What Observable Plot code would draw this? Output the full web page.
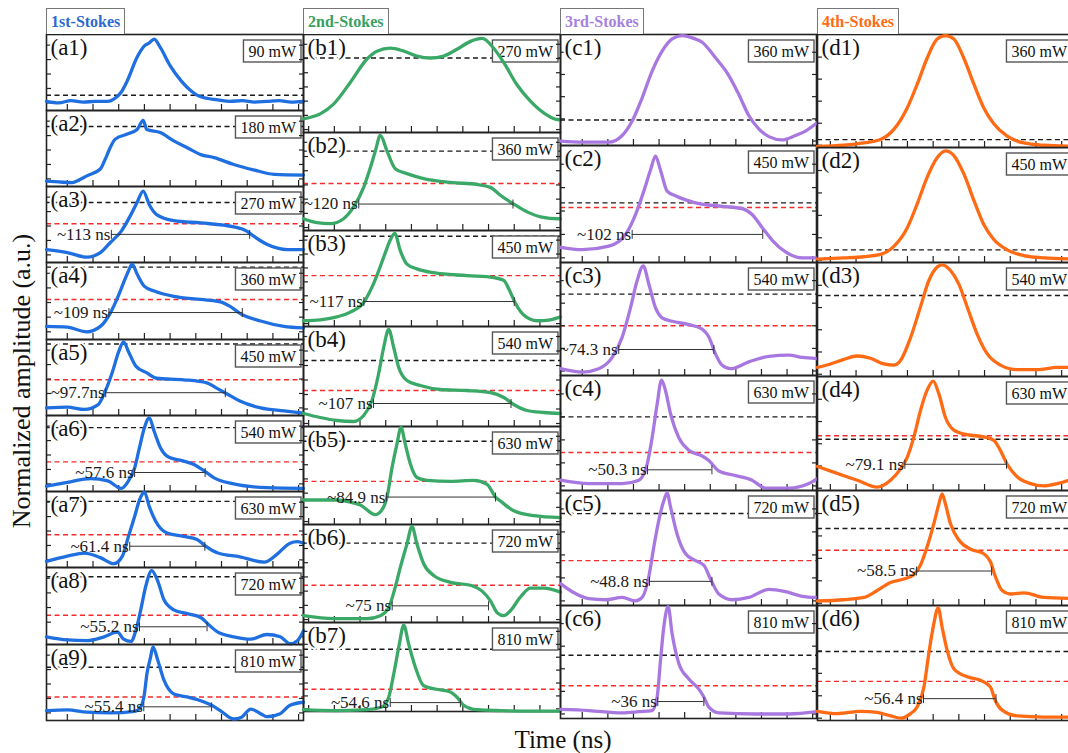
<!DOCTYPE html>
<html>
<head>
<meta charset="utf-8">
<script src="https://cdn.jsdelivr.net/npm/d3@7/dist/d3.min.js"></script>
<script src="https://cdn.jsdelivr.net/npm/@observablehq/plot@0.6/dist/plot.umd.min.js"></script>
<style>
  html, body { margin: 0; padding: 0; background: #fff; overflow: hidden; }
  #fig { position: relative; width: 1068px; height: 753px; overflow: hidden;
         font-family: 'Liberation Serif', 'Times New Roman', serif; background: #fff; }
  .head { position: absolute; top: 8px; height: 26px; box-sizing: border-box;
          border: 1.5px solid #777; border-bottom: none; background: #fff;
          font-weight: bold; font-size: 16px; line-height: 25px; padding: 0 4px; white-space: nowrap; }
  .ylab { position: absolute; left: 22px; top: 381px; transform: translate(-50%, -50%) rotate(-90deg);
          font-size: 26px; white-space: nowrap; color: #111; }
  .xlab { position: absolute; left: 563px; top: 726px; transform: translateX(-50%);
          font-size: 25px; white-space: nowrap; color: #111; }
</style>
</head>
<body>
<div id="fig"></div>
<script>
// ---------- 1st-Stokes pulses: [time (ns), normalized amplitude] ----------
const a1 = [[0,0.12],[10,0.10],[20,0.13],[30,0.11],[40,0.12],[50,0.12],[55,0.15],[61,0.24],[66,0.39],[74,0.70],[80,0.85],[84,0.89],[88,0.94],[93,0.83],[101,0.59],[110,0.39],[118,0.26],[126,0.18],[140,0.14],[150,0.12],[160,0.13],[170,0.11],[180,0.12],[190,0.13],[200,0.11],[210,0.12]];
const a2 = [[0,0.07],[10,0.06],[21,0.05],[27,0.09],[33,0.14],[44,0.23],[48,0.36],[52,0.51],[56,0.62],[66,0.69],[74,0.75],[79,0.87],[82,0.75],[93,0.71],[104,0.60],[115,0.51],[126,0.42],[137,0.38],[153,0.29],[169,0.22],[186,0.16],[210,0.15]];
const a3 = [[0,0.17],[17,0.13],[33,0.07],[44,0.13],[52,0.26],[61,0.41],[69,0.63],[74,0.79],[79,0.94],[84,0.76],[90,0.63],[104,0.55],[126,0.52],[153,0.47],[164,0.41],[169,0.35],[180,0.24],[197,0.17],[210,0.17]];
const a4 = [[0,0.17],[17,0.16],[33,0.10],[44,0.17],[52,0.34],[58,0.54],[63,0.74],[67,0.89],[70,0.98],[74,0.85],[80,0.69],[88,0.63],[104,0.56],[126,0.52],[142,0.49],[150,0.43],[158,0.34],[175,0.24],[194,0.17],[210,0.15]];
const a5 = [[0,0.10],[17,0.11],[31,0.08],[42,0.14],[48,0.32],[54,0.58],[59,0.84],[63,0.97],[67,0.84],[73,0.65],[82,0.56],[90,0.49],[112,0.47],[131,0.43],[139,0.36],[148,0.28],[158,0.19],[175,0.10],[194,0.06],[210,0.03]];
const a6 = [[0,0.07],[17,0.12],[36,0.17],[50,0.14],[61,0.04],[67,0.14],[72,0.31],[76,0.58],[80,0.84],[84,0.97],[88,0.79],[93,0.58],[100,0.45],[112,0.40],[120,0.36],[129,0.27],[137,0.18],[153,0.10],[180,0.05],[210,0.04]];
const a7 = [[0,0.08],[17,0.15],[31,0.19],[44,0.13],[55,0.05],[62,0.15],[67,0.41],[72,0.67],[76,0.89],[80,0.99],[84,0.80],[91,0.56],[99,0.45],[112,0.41],[123,0.37],[130,0.28],[140,0.19],[158,0.14],[178,0.07],[188,0.17],[199,0.32],[205,0.34],[210,0.32]];
const a8 = [[0,0.10],[17,0.06],[33,0.05],[47,0.10],[58,0.16],[63,0.07],[69,0.04],[73,0.18],[77,0.45],[81,0.75],[86,0.96],[91,0.82],[96,0.58],[104,0.45],[115,0.40],[126,0.35],[133,0.25],[140,0.16],[153,0.10],[167,0.07],[180,0.13],[191,0.10],[199,0.01],[205,0.05],[210,0.18]];
const a9 = [[0,0.13],[17,0.14],[33,0.11],[52,0.10],[72,0.12],[77,0.18],[80,0.35],[82,0.61],[85,0.83],[87,0.97],[91,0.79],[96,0.53],[104,0.35],[115,0.31],[126,0.26],[135,0.20],[142,0.13],[153,0.02],[159,0.04],[167,0.15],[175,0.09],[180,0.05],[191,0.09],[199,0.20],[210,0.24]];

const powersA = [90, 180, 270, 360, 450, 540, 630, 720, 810];
const blackA = [0.20, 0.79, 0.79, 0.94, 0.94, 0.84, 0.87, 0.88, 0.70];
const redA = [null, null, 0.51, 0.52, 0.47, 0.39, 0.43, 0.38, 0.31];
const barStartA = [null, null, 53, 51, 48.4, 72, 68, 76, 79.5];
const barLevelA = [null, null, 0.37, 0.35, 0.30, 0.25, 0.28, 0.23, 0.18];
const widthLabelsA = [null, null, "~113 ns", "~109 ns", "~97.7ns", "~57.6 ns", "~61.4 ns", "~55.2 ns", "~55.4 ns"];

// ---------- 2nd-Stokes ----------
const b1 = [[0,0.14],[13,0.19],[23.4,0.29],[36.4,0.51],[49.4,0.75],[57.2,0.83],[67.5,0.86],[78,0.83],[88.3,0.78],[98.7,0.76],[109,0.78],[119.5,0.85],[130,0.93],[139,0.96],[148,0.86],[156,0.71],[166,0.49],[176.6,0.32],[187,0.20],[198.7,0.13],[200,0.13]];
const b2 = [[0,0.12],[10.4,0.08],[20.8,0.07],[31.2,0.12],[39,0.24],[46.8,0.44],[52,0.64],[55.9,0.81],[59.8,0.97],[65,0.81],[71.4,0.63],[80.5,0.58],[93.5,0.53],[114.3,0.49],[135,0.47],[145.5,0.44],[153.2,0.36],[163.6,0.27],[174,0.19],[184.4,0.14],[198.7,0.12],[200,0.12]];
const b3 = [[0,0.06],[13,0.07],[26,0.10],[36.4,0.15],[46.8,0.25],[53.3,0.41],[58.5,0.58],[63.7,0.77],[67.5,0.90],[71,0.97],[75.3,0.79],[80.5,0.65],[88.3,0.60],[101.3,0.56],[127.3,0.53],[148.1,0.51],[155.9,0.48],[159.8,0.39],[165,0.24],[171.4,0.12],[181.8,0.06],[192.2,0.07],[200,0.10]];
const b4 = [[0,0.13],[13,0.09],[26,0.06],[39,0.05],[46.8,0.11],[53.3,0.26],[58.5,0.53],[62.4,0.79],[66.3,0.97],[70.2,0.79],[74.1,0.59],[80.5,0.46],[90.9,0.41],[106.5,0.37],[127.3,0.36],[145.5,0.34],[155.9,0.29],[163.6,0.22],[174,0.16],[187,0.14],[200,0.13]];
const b5 = [[0,0.25],[13,0.25],[26,0.25],[36,0.23],[44.2,0.20],[55.9,0.10],[62.4,0.18],[65,0.28],[68.9,0.58],[72.7,0.82],[75.9,0.99],[79.2,0.82],[83.1,0.62],[88.3,0.48],[96.1,0.45],[114.3,0.44],[132.5,0.45],[142.9,0.41],[149.4,0.28],[153.2,0.24],[163.6,0.14],[179.2,0.09],[200,0.07]];
const b6 = [[0,0.07],[23.4,0.04],[49.4,0.04],[59.8,0.07],[66.3,0.15],[71.4,0.36],[75.3,0.56],[80.5,0.80],[84.4,0.98],[88.3,0.80],[93.5,0.60],[101.3,0.48],[114.3,0.41],[129.9,0.38],[139,0.32],[145.5,0.22],[150.7,0.10],[155.9,0.07],[161,0.12],[168.8,0.26],[176.6,0.35],[187,0.35],[200,0.31]];
const b7 = [[0,0.02],[23.4,0.01],[49.4,0.02],[61,0.05],[66.3,0.16],[70.2,0.42],[74.1,0.72],[78,0.97],[81.8,0.76],[87,0.50],[93.5,0.29],[103.9,0.25],[114.3,0.22],[119.5,0.16],[124.7,0.07],[135,0.02],[153.2,0.01],[179.2,0.005],[200,0.005]];

const powersB = [270, 360, 450, 540, 630, 720, 810];
const blackB = [0.76, 0.81, 0.94, 0.66, 0.85, 0.81, 0.70];
const redB = [null, 0.48, 0.53, 0.36, 0.44, 0.38, 0.25];
const barStartB = [null, 43, 47, 54.5, 64.5, 69, 67.5];
const barLevelB = [null, 0.27, 0.26, 0.23, 0.28, 0.17, 0.10];
const widthLabelsB = [null, "~120 ns", "~117 ns", "~107 ns", "~84.9 ns", "~75 ns", "~54.6 ns"];

// ---------- 3rd-Stokes ----------
const c1 = [[0,0.04],[17,0.03],[37.8,0.03],[48.2,0.09],[56,0.22],[63.8,0.43],[71.6,0.67],[79.4,0.85],[87.2,0.96],[95.1,0.99],[102.9,0.97],[110.7,0.93],[121.1,0.79],[131.5,0.63],[139.3,0.46],[147.1,0.27],[154.9,0.15],[162.8,0.08],[173.2,0.05],[183.6,0.09],[191.4,0.13],[200,0.20]];
const c2 = [[0,0.13],[17,0.11],[37.8,0.14],[50.8,0.24],[58.6,0.41],[65.1,0.61],[70.3,0.79],[74.2,0.91],[78.1,0.79],[83.3,0.61],[89.8,0.57],[105.5,0.51],[126.3,0.48],[141.9,0.46],[149.7,0.41],[157.5,0.30],[165.4,0.19],[175.8,0.09],[188.8,0.04],[200,0.04]];
const c3 = [[0,0.06],[17,0.03],[29.9,0.06],[40.4,0.16],[48.2,0.34],[54.7,0.60],[59.9,0.84],[64.6,0.97],[69,0.81],[74.2,0.60],[79.4,0.51],[87.2,0.48],[100.3,0.45],[110.7,0.41],[115.9,0.34],[121.1,0.19],[126.3,0.09],[132.8,0.06],[147.1,0.12],[162.8,0.17],[178.4,0.18],[188.8,0.16],[200,0.15]];
const c4 = [[0,0.09],[22.1,0.06],[48.2,0.06],[61.2,0.09],[67.7,0.23],[71.6,0.46],[75.5,0.75],[78.9,0.96],[82,0.87],[85.9,0.67],[92.4,0.46],[100.3,0.35],[110.7,0.30],[115.9,0.26],[123.7,0.17],[136.7,0.13],[149.7,0.09],[160.2,0.02],[178.4,0.02],[194,0.06],[200,0.10]];
const c5 = [[0,0.19],[9.1,0.12],[22.1,0.06],[35.2,0.05],[48.2,0.07],[58.6,0.04],[63.8,0.07],[69,0.25],[72.9,0.51],[76.8,0.74],[80.7,0.91],[83.3,0.98],[85.9,0.86],[91.1,0.62],[97.7,0.45],[105.5,0.39],[112,0.35],[117.2,0.23],[123.7,0.10],[134.1,0.05],[147.1,0.07],[162.8,0.14],[175.8,0.12],[188.8,0.08],[200,0.07]];
const c6 = [[0,0.08],[22.1,0.07],[48.2,0.05],[61.2,0.06],[71.6,0.07],[75.5,0.19],[78.1,0.51],[80.7,0.81],[84.1,0.99],[87.2,0.75],[92.4,0.49],[100.3,0.35],[108.1,0.26],[112,0.19],[115.9,0.10],[123.7,0.05],[152.3,0.04],[178.4,0.04],[200,0.06]];

const powersC = [360, 450, 540, 630, 720, 810];
const blackC = [0.23, 0.51, 0.72, 0.64, 0.80, 0.56];
const redC = [null, 0.47, 0.44, 0.33, 0.39, 0.29];
const barStartC = [null, 56, 45.5, 68, 69.5, 76];
const barLevelC = [null, 0.24, 0.23, 0.18, 0.21, 0.15];
const widthLabelsC = [null, "~102 ns", "~74.3 ns", "~50.3 ns", "~48.8 ns", "~36 ns"];

// ---------- 4th-Stokes ----------
const d1 = [[0,0.01],[20.5,0.02],[36.1,0.04],[49,0.07],[59.4,0.16],[69.8,0.35],[77.6,0.56],[85.3,0.79],[93.1,0.96],[99.6,0.99],[106.1,0.96],[113.9,0.79],[121.7,0.56],[129.4,0.35],[137.2,0.21],[147.6,0.10],[160.6,0.04],[176.1,0.02],[200,0.01]];
const d2 = [[0,0.03],[20.5,0.04],[36.1,0.05],[49,0.07],[59.4,0.14],[69.8,0.30],[77.6,0.51],[85.3,0.74],[93.1,0.91],[99.6,0.97],[106.1,0.93],[113.9,0.77],[121.7,0.54],[129.4,0.33],[137.2,0.20],[147.6,0.11],[160.6,0.06],[176.1,0.04],[200,0.03]];
const d3 = [[0,0.08],[10.1,0.11],[20.5,0.15],[30.9,0.18],[41.2,0.16],[51.6,0.11],[59.4,0.10],[64.6,0.14],[72.4,0.34],[80.1,0.61],[86.6,0.84],[93.1,0.96],[97,0.98],[103.5,0.93],[110,0.81],[116.5,0.61],[124.3,0.37],[132,0.20],[142.4,0.10],[155.4,0.06],[170.9,0.06],[186.5,0.08],[200,0.08]];
const d4 = [[0,0.21],[15.3,0.15],[30.9,0.09],[46.4,0.03],[56.8,0.09],[64.6,0.19],[69.8,0.29],[75,0.47],[80.1,0.70],[85.3,0.88],[90,0.96],[94.4,0.85],[99.6,0.64],[106.1,0.53],[116.5,0.49],[129.4,0.47],[137.2,0.44],[142.4,0.35],[147.6,0.23],[155.4,0.12],[165.8,0.06],[176.1,0.04],[186.5,0.06],[195.3,0.09],[200,0.11]];
const d5 = [[0,0.04],[20.5,0.05],[36.1,0.07],[46.4,0.13],[56.8,0.20],[67.2,0.23],[75,0.27],[80.1,0.35],[85.3,0.51],[90.5,0.71],[94.4,0.88],[97,0.97],[99.6,0.88],[103.5,0.71],[110,0.57],[119.1,0.49],[129.4,0.45],[134.6,0.38],[138.5,0.25],[143.7,0.13],[150.2,0.10],[160.6,0.11],[176.1,0.07],[200,0.06]];
const d6 = [[0,0.08],[15.3,0.06],[33.5,0.08],[46.4,0.07],[56.8,0.04],[64.6,0.02],[72.4,0.06],[77.6,0.12],[82.8,0.29],[86.6,0.58],[90.5,0.84],[93.9,0.98],[97,0.81],[100.9,0.61],[106.1,0.45],[116.5,0.38],[126.8,0.35],[134.6,0.29],[138.5,0.17],[143.7,0.09],[155.4,0.04],[176.1,0.03],[200,0.03]];

const powersD = [360, 450, 540, 630, 720, 810];
const blackD = [0.07, 0.11, 0.71, 0.45, 0.67, 0.60];
const redD = [null, null, null, 0.48, 0.48, 0.34];
const barStartD = [null, null, null, 68, 77, 82.5];
const barLevelD = [null, null, null, 0.23, 0.30, 0.19];
const widthLabelsD = [null, null, null, "~79.1 ns", "~58.5 ns", "~56.4 ns"];

// evenly spaced tick positions
function steps(start, stop, step) {
  const out = [];
  for (let v = start; v < stop; v += step) out.push(+v.toFixed(4));
  return out;
}

// ---------- layout of the four columns of stacked panels ----------
const SERIF = "'Liberation Serif','Times New Roman',serif";
const columns = [
  {key: "a", title: "1st-Stokes", color: "#1f6fe0", headColor: "#2a6ad2", left: 46, width: 257, span: 210,
   bounds: [34, 110, 186, 262, 339, 415, 491, 567, 644, 720],
   xTicks: steps(17, 210, 21), yTicks: steps(0.1, 0.95, 0.19),
   curves: [a1, a2, a3, a4, a5, a6, a7, a8, a9], powers: powersA, black: blackA, red: redA,
   barStart: barStartA, barLevel: barLevelA, labels: widthLabelsA},
  {key: "b", title: "2nd-Stokes", color: "#3aa866", headColor: "#38a060", left: 303, width: 257, span: 200,
   bounds: [34, 132, 230, 326, 426, 524, 622, 711],
   xTicks: steps(4, 200, 20), yTicks: steps(0.03, 0.95, 0.145),
   curves: [b1, b2, b3, b4, b5, b6, b7], powers: powersB, black: blackB, red: redB,
   barStart: barStartB, barLevel: barLevelB, labels: widthLabelsB},
  {key: "c", title: "3rd-Stokes", color: "#a878e0", headColor: "#a77fdf", left: 560, width: 256, span: 200,
   bounds: [34, 145, 262, 375, 490, 605, 718],
   xTicks: steps(17, 200, 20), yTicks: steps(0.04, 0.95, 0.2),
   curves: [c1, c2, c3, c4, c5, c6], powers: powersC, black: blackC, red: redC,
   barStart: barStartC, barLevel: barLevelC, labels: widthLabelsC},
  {key: "d", title: "4th-Stokes", color: "#ff6a14", headColor: "#ff6a14", left: 817, width: 257, span: 200,
   bounds: [34, 147, 262, 376, 490, 605, 720],
   xTicks: steps(10, 200, 20), yTicks: steps(0.02, 0.95, 0.195),
   curves: [d1, d2, d3, d4, d5, d6], powers: powersD, black: blackD, red: redD,
   barStart: barStartD, barLevel: barLevelD, labels: widthLabelsD}
];

const measureCtx = document.createElement("canvas").getContext("2d");
function textWidth(str, size) {
  measureCtx.font = `${size}px ${SERIF}`;
  return measureCtx.measureText(str).width;
}

const SVGNS = "http://www.w3.org/2000/svg";
function svgEl(tag, attrs) {
  const el = document.createElementNS(SVGNS, tag);
  for (const [k, v] of Object.entries(attrs)) el.setAttribute(k, v);
  return el;
}

// boxed pump-power tag in the top-right corner of a panel
function powerBox(label) {
  return (index, scales, values, dims) => {
    const fs = 16, bh = 22, bw = textWidth(label, fs) + 10;
    const x = dims.width - dims.marginRight - 2 - bw, y = dims.marginTop + 6;
    const g = svgEl("g", {});
    g.appendChild(svgEl("rect", {x, y, width: bw, height: bh, fill: "white", stroke: "#555", "stroke-width": 1.4}));
    const t = svgEl("text", {x: x + bw / 2, y: y + bh / 2, dy: "0.35em", "text-anchor": "middle",
      "font-family": SERIF, "font-size": fs, fill: "#111"});
    t.textContent = label;
    g.appendChild(t);
    return g;
  };
}

// short vertical end mark for the pulse-width bar
const endMark = {draw(ctx) { ctx.moveTo(0, -4.5); ctx.lineTo(0, 4.5); }};

const fig = document.getElementById("fig");

function drawPanel(col, i) {
  const top = col.bounds[i], h = col.bounds[i + 1] - top;
  const pts = col.curves[i].map(([t, v]) => ({t, v}));
  const marks = [
    Plot.ruleY([col.black[i]], {stroke: "#1a1a1a", strokeWidth: 1.4, strokeDasharray: "5,3.5"})
  ];
  if (col.red[i] != null) {
    marks.push(Plot.ruleY([col.red[i]], {stroke: "#f52a2a", strokeWidth: 1.4, strokeDasharray: "5,3.5"}));
  }
  marks.push(powerBox(`${col.powers[i]} mW`));
  marks.push(Plot.axisX({ticks: col.xTicks, anchor: "bottom", tickSize: -6, tickFormat: () => "", label: null, stroke: "#222", strokeWidth: 1.2}));
  marks.push(Plot.axisY({ticks: col.yTicks, anchor: "left", tickSize: -5, tickFormat: () => "", label: null, stroke: "#222", strokeWidth: 1.2}));
  marks.push(Plot.axisY({ticks: col.yTicks, anchor: "right", tickSize: -5, tickFormat: () => "", label: null, stroke: "#222", strokeWidth: 1.2}));
  marks.push(Plot.frame({stroke: "#222", strokeWidth: 1.6}));
  marks.push(Plot.line(pts, {x: "t", y: "v", stroke: col.color, strokeWidth: 3.3, curve: "monotone-x"}));
  const label = col.labels[i];
  if (label) {
    const width = parseFloat(label.replace(/[^0-9.]/g, ""));
    const bar = {x1: col.barStart[i], x2: col.barStart[i] + width, y: col.barLevel[i], label};
    marks.push(Plot.ruleY([bar], {x1: "x1", x2: "x2", y: "y", stroke: "#333", strokeWidth: 1}));
    marks.push(Plot.dot([bar.x1, bar.x2], {x: d => d, y: () => bar.y, symbol: endMark, fill: "none", stroke: "#333", strokeWidth: 1}));
    marks.push(Plot.text([bar], {x: "x1", y: "y", text: "label", textAnchor: "end", dx: -1, fontSize: 17, fontFamily: SERIF, fill: "#1a1a1a"}));
  }
  marks.push(Plot.text([`(${col.key}${i + 1})`], {
    text: d => d, frameAnchor: "top-left", textAnchor: "start", lineAnchor: "top", dx: 4, dy: 4,
    fontSize: 23, fontFamily: SERIF, fill: "#111", stroke: "white", strokeWidth: 4
  }));

  const svg = Plot.plot({
    width: col.width, height: h, margin: 0,
    x: {domain: [0, col.span]},
    y: {domain: [0, 1]},
    style: {fontFamily: SERIF},
    marks
  });
  Object.assign(svg.style, {position: "absolute", left: col.left + "px", top: top + "px",
    overflow: "visible", background: "transparent", maxWidth: "none"});
  fig.appendChild(svg);
}

for (const col of columns) {
  col.curves.forEach((_, i) => drawPanel(col, i));
  const head = document.createElement("div");
  head.className = "head";
  head.style.left = col.left + "px";
  head.style.color = col.headColor;
  head.textContent = col.title;
  fig.appendChild(head);
}

const ylab = document.createElement("div");
ylab.className = "ylab";
ylab.textContent = "Normalized amplitude (a.u.)";
fig.appendChild(ylab);

const xlab = document.createElement("div");
xlab.className = "xlab";
xlab.textContent = "Time (ns)";
fig.appendChild(xlab);
</script>
</body>
</html>
